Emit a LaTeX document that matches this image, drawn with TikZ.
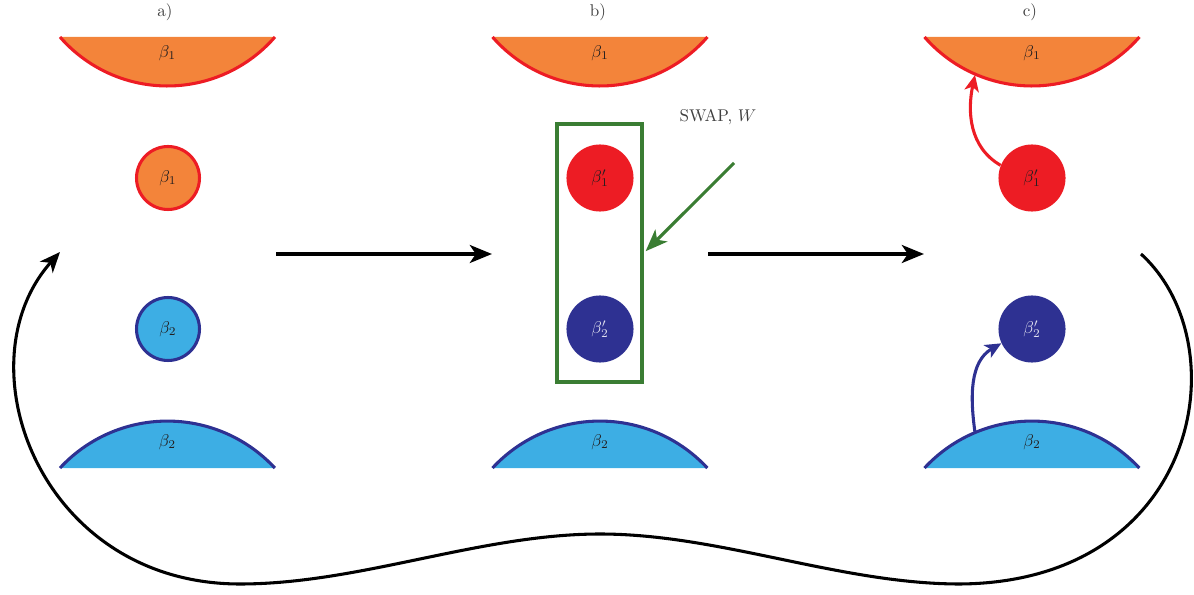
\documentclass[tikz,border=0pt]{standalone}
\usetikzlibrary{arrows.meta}
\definecolor{orF}{HTML}{F3843A}
\definecolor{redS}{HTML}{ED1C24}
\definecolor{ltB}{HTML}{3DAEE4}
\definecolor{dkB}{HTML}{2E3192}
\definecolor{grn}{HTML}{3A7D33}
\definecolor{txt}{HTML}{231F20}
\definecolor{lbl}{HTML}{404040}
\begin{document}
\begin{tikzpicture}[x=0.5875pt,y=0.5875pt,
  lab/.style={text=lbl, inner sep=0},
  beta/.style={text=txt, inner sep=0},
  ring/.style={circle, inner sep=0, minimum size=37pt, line width=1.8pt},
  dot/.style={circle, inner sep=0, minimum size=39.4pt},
  flow/.style={line width=2.2pt, -{Stealth[length=13pt,width=10.5pt,inset=3.5pt]}},
  loopline/.style={line width=1.8pt, -{Stealth[length=12pt,width=10pt,inset=3.5pt]}},
  swaparrow/.style={grn, line width=1.8pt, -{Stealth[length=13pt,width=10pt,inset=3.5pt]}},
  moveR/.style={redS, line width=1.8pt, -{Stealth[length=9.5pt,width=8.5pt,inset=2.5pt]}},
  moveB/.style={dkB, line width=1.8pt, -{Stealth[length=9.5pt,width=8.5pt,inset=2.5pt]}},
  rim/.style={line width=1.8pt}
]
\useasboundingbox (0,0) rectangle (1194,594);

% panel labels
\node[lab] (la) at (165,582) {a)};
\node[lab] (lb) at (598,582) {b)};
\node[lab] (lc) at (1030,582) {c)};

% bowls and domes
\foreach \cx in {167.5,600,1032}{
  \fill[orF] (\cx-107.5,557) arc[start angle=221,end angle=319,radius=142.4] -- cycle;
  \draw[redS,rim] (\cx-107.5,557) arc[start angle=221,end angle=319,radius=142.4];
  \fill[ltB] (\cx-107.5,126) arc[start angle=137.2,end angle=42.8,radius=146.4] -- cycle;
  \draw[dkB,rim] (\cx-107.5,126) arc[start angle=137.2,end angle=42.8,radius=146.4];
}
\node[beta] (ta) at (167.5,541) {$\beta_1$};
\node[beta] (tb) at (600,541) {$\beta_1$};
\node[beta] (tc) at (1032,541) {$\beta_1$};
\node[beta] (da) at (167.5,152) {$\beta_2$};
\node[beta] (db) at (600,152) {$\beta_2$};
\node[beta] (dc) at (1032,152) {$\beta_2$};

% panel a circles
\node[ring, draw=redS, fill=orF, text=txt] (a1) at (168,416) {$\beta_1$};
\node[ring, draw=dkB, fill=ltB, text=txt] (a2) at (168,265) {$\beta_2$};

% panel b
\node[dot, fill=redS, text=txt] (b1) at (600,416) {$\beta_1'$};
\node[dot, fill=dkB, text=white!85!dkB] (b2) at (600,265) {$\beta_2'$};
\node[draw=grn, line width=2.2pt, minimum width=49.9pt, minimum height=151.6pt, inner sep=0] (swapbox) at (599.5,341) {};
\node[lab] (swaplab) at (718,477) {SWAP, $W$};
\coordinate (swapfrom) at (734,431);
\draw[swaparrow, shorten >=1.5pt] (swapfrom) -- (swapbox.east);

% panel c
\node[dot, fill=redS, text=txt] (c1) at (1032,416) {$\beta_1'$};
\node[dot, fill=dkB, text=white!85!dkB] (c2) at (1032,265) {$\beta_2'$};
\coordinate (c1tgt) at (975,519);
\coordinate (c2src) at (975,161.6);
\draw[moveR] (c1.158) to[out=150,in=258] (c1tgt);
\draw[moveB] (c2src) to[out=98,in=210] (c2.205);

% flow arrows
\coordinate (aout) at (276,340);
\coordinate (bin) at (492,340);
\coordinate (bout) at (708,340);
\coordinate (cin) at (924,340);
\draw[flow] (aout) -- (bin);
\draw[flow] (bout) -- (cin);

% return loop
\coordinate (cout) at (1141,340);
\coordinate (ain) at (60,342);
\draw[loopline] (cout) .. controls (1240,250) and (1200,12) .. (960,10)
  .. controls (840,10) and (720,60) .. (600,60)
  .. controls (480,60) and (360,10) .. (240,10)
  .. controls (40,10) and (-40,230) .. (ain);
\end{tikzpicture}
\end{document}
